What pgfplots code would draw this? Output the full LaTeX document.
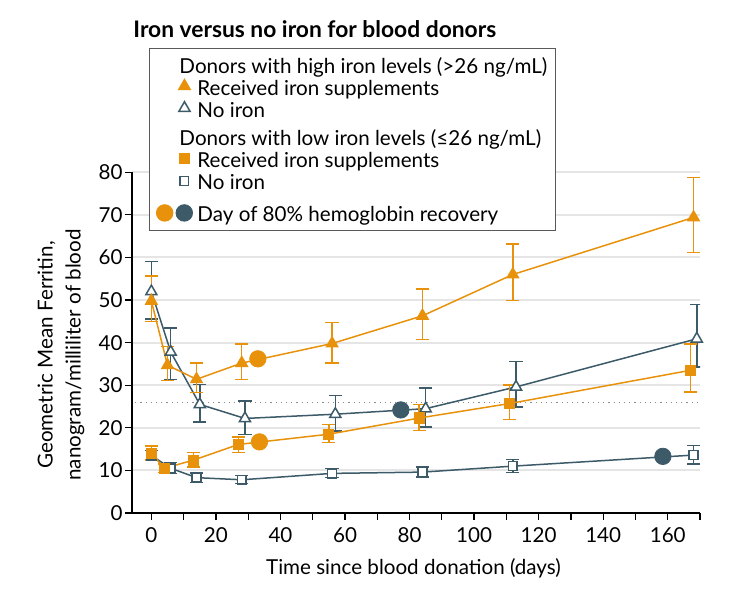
\documentclass[border=0pt]{standalone}
\usepackage{fontspec}
\setmainfont{Lato}
\usepackage{pgfplots}
\usepackage{pgfplotstable}
\pgfplotsset{compat=1.18}

\definecolor{ironorange}{HTML}{E8920C}
\definecolor{noironblue}{HTML}{3C5A68}

% day, geometric mean ferritin, error up, error down
\pgfplotstableread{
day f ep em
0   49.8 5.9 4.8
5   34.7 4.4 3.6
14  31.4 3.8 3.1
28  35.2 4.5 3.9
56  39.8 4.9 4.6
84  46.3 6.3 5.6
112 56.0 7.2 6.1
168 69.4 9.4 8.2
}\highiron
\pgfplotstableread{
day f ep em
0   52.0 7.1 6.4
6   37.8 5.6 6.4
15  25.5 4.7 4.1
29  22.2 4.1 3.8
57  23.2 4.4 3.9
85  24.5 4.9 4.3
113 29.6 6.0 4.7
169 40.9 8.1 6.6
}\highnoiron
\pgfplotstableread{
day f ep em
0   14.0 1.7 1.6
4   10.5 1.0 1.0
13  12.4 1.8 1.6
27  16.1 1.8 1.9
55  18.5 2.3 2.0
83  22.3 3.2 2.9
111 25.7 4.3 3.8
167 33.5 6.2 5.1
}\lowiron
\pgfplotstableread{
day f ep em
0   13.5 1.2 1.2
6   10.5 1.3 1.2
14  8.3  1.1 1.1
28  7.8  1.0 0.9
56  9.3  1.1 1.0
84  9.6  1.2 1.2
112 11.0 1.6 1.5
168 13.6 2.3 2.1
}\lownoiron

\newcommand\lstrut[1]{\rule[-3.15pt]{0pt}{#1}}

\begin{document}
\fontsize{10.3}{12}\selectfont
\begin{tikzpicture}
\useasboundingbox (0,0) rectangle (365pt,300pt);
\node[anchor=base west, inner sep=0pt, font=\fontsize{11.4}{13}\selectfont\bfseries]
  at (66.5pt,281.2pt) {Iron versus no iron for blood donors};
\begin{axis}[
  at={(66pt,43.5pt)}, anchor=south west,
  scale only axis, width=284pt, height=170.35pt,
  xmin=-6, xmax=170, ymin=0, ymax=80,
  axis x line*=bottom, axis y line*=left,
  axis line style={line width=0.6pt, black},
  xtick={0,20,...,160}, minor xtick={10,30,...,170},
  ytick={0,10,...,80},
  tick align=outside,
  major tick length=3.5pt, minor tick length=3.5pt,
  tick style={black, line width=0.6pt},
  ymajorgrids, grid style={black!10, line width=1pt},
  /pgf/number format/assume math mode=true,
  tick label style={font=\fontsize{10.3}{12}\selectfont},
  yticklabel style={inner xsep=1pt},
  xlabel={Time since blood donation (days)},
  xlabel style={at={(axis description cs:0.4956,-0.161)}, anchor=center,
    font=\fontsize{10.3}{12}\selectfont},
  ylabel={Geometric Mean Ferritin,\\nanogram/milliliter of blood},
  ylabel style={at={(axis description cs:-0.125,0.464)}, anchor=center,
    align=center, font=\fontsize{10.3}{14}\selectfont},
  error bars/error bar style={line width=0.75pt},
  error bars/error mark options={line width=0.75pt, mark size=3.3pt, rotate=90},
  legend cell align=left,
  legend style={at={(axis description cs:0.0299,1.3648)}, anchor=north west,
    draw=black!65, line width=0.5pt, fill=white,
    inner xsep=2pt, inner ysep=3pt, row sep=0pt,
    font=\fontsize{10.3}{12}\selectfont,
    nodes={inner xsep=2pt, inner ysep=0pt}},
]
% threshold
\addplot[forget plot, black!45, dotted, line width=0.6pt] coordinates {(-5,26) (170,26)};

% no iron, blue
\addplot[forget plot, noironblue, line width=0.75pt, mark=triangle*, mark size=3.2pt,
  mark options={fill=white, solid},
  error bars/.cd, y dir=both, y explicit]
  table[x=day, y=f, y error plus=ep, y error minus=em]{\highnoiron};
\addplot[forget plot, noironblue, line width=0.75pt, mark=square*, mark size=2.2pt,
  mark options={fill=white, solid},
  error bars/.cd, y dir=both, y explicit]
  table[x=day, y=f, y error plus=ep, y error minus=em]{\lownoiron};

% iron, orange
\addplot[forget plot, ironorange, line width=0.75pt, mark=triangle*, mark size=3.2pt,
  mark options={fill=ironorange, solid},
  error bars/.cd, y dir=both, y explicit]
  table[x=day, y=f, y error plus=ep, y error minus=em]{\highiron};
\addplot[forget plot, ironorange, line width=0.75pt, mark=square*, mark size=2.4pt,
  mark options={fill=ironorange, solid},
  error bars/.cd, y dir=both, y explicit]
  table[x=day, y=f, y error plus=ep, y error minus=em]{\lowiron};

% day of 80% hemoglobin recovery
\addplot[forget plot, only marks, mark=*, mark size=4.1pt, ironorange]
  coordinates {(33,36.2) (33.5,16.7)};
\addplot[forget plot, only marks, mark=*, mark size=4.1pt, noironblue]
  coordinates {(77.3,24.2) (158.5,13.3)};

% legend
\addlegendimage{legend image code/.code={\path (0pt,0pt) (19.5pt,0pt);}}
\addlegendentry{\lstrut{12.5pt}\hspace*{-9pt}Donors with high iron levels (>26 ng/mL)}
\addlegendimage{legend image code/.code={\path (0pt,0pt) (19.5pt,0pt);
  \draw[ironorange, fill=ironorange, line width=0.75pt]
    plot[only marks, mark=triangle*, mark size=3.2pt] coordinates {(15.25pt,0.6pt)};}}
\addlegendentry{\lstrut{12.6pt}Received iron supplements}
\addlegendimage{legend image code/.code={\path (0pt,0pt) (19.5pt,0pt);
  \draw[noironblue, fill=white, line width=0.75pt]
    plot[only marks, mark=triangle*, mark size=3.2pt] coordinates {(15.25pt,0.6pt)};}}
\addlegendentry{\lstrut{12.6pt}No iron}
\addlegendimage{legend image code/.code={\path (0pt,0pt) (19.5pt,0pt);}}
\addlegendentry{\lstrut{16pt}\hspace*{-9pt}Donors with low iron levels (≤26 ng/mL)}
\addlegendimage{legend image code/.code={\path (0pt,0pt) (19.5pt,0pt);
  \draw[ironorange, fill=ironorange, line width=0.75pt]
    plot[only marks, mark=square*, mark size=2.4pt] coordinates {(15.15pt,0.6pt)};}}
\addlegendentry{\lstrut{12.6pt}Received iron supplements}
\addlegendimage{legend image code/.code={\path (0pt,0pt) (19.5pt,0pt);
  \draw[noironblue, fill=white, line width=0.75pt]
    plot[only marks, mark=square*, mark size=2.2pt] coordinates {(15.15pt,0.6pt)};}}
\addlegendentry{\lstrut{12.6pt}No iron}
\addlegendimage{legend image code/.code={\path (0pt,0pt) (19.5pt,0pt);
  \fill[ironorange] (5.35pt,-2pt) circle (4.1pt);
  \fill[noironblue] (15.15pt,-2pt) circle (4.1pt);}}
\addlegendentry{\lstrut{17.5pt}Day of 80\% hemoglobin recovery}
\end{axis}
\end{tikzpicture}
\end{document}
